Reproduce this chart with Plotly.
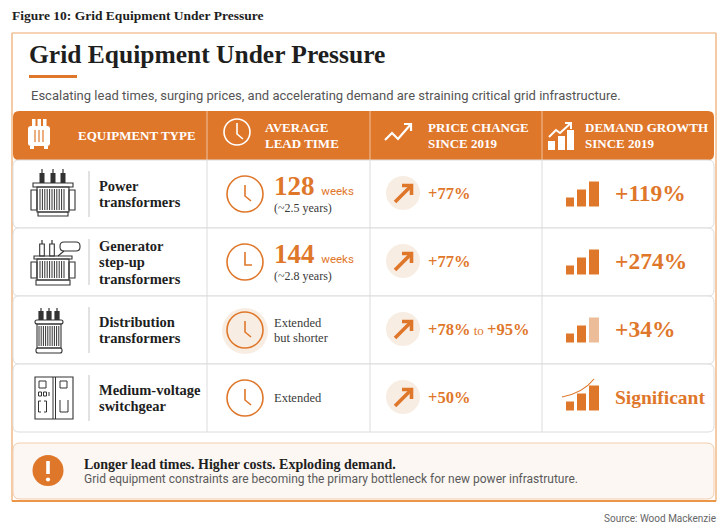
import plotly.graph_objects as go

# --- Data ---
HEADERS = [["EQUIPMENT TYPE"], ["AVERAGE", "LEAD TIME"],
           ["PRICE CHANGE", "SINCE 2019"], ["DEMAND GROWTH", "SINCE 2019"]]
EQUIPMENT = [["Power", "transformers"],
             ["Generator", "step-up", "transformers"],
             ["Distribution", "transformers"],
             ["Medium-voltage", "switchgear"]]
LEAD_WEEKS = [128, 144, None, None]
LEAD_NOTE = [["(~2.5 years)"], ["(~2.8 years)"], ["Extended", "but shorter"], ["Extended"]]
PRICE_FROM = [77, 77, 78, 50]
PRICE_TO = [None, None, 95, None]
DEMAND_PCT = [119, 274, 34, None]
DEMAND_TEXT = [None, None, None, "Significant"]

TITLE = "Grid Equipment Under Pressure"
FIG_LABEL = "Figure 10: Grid Equipment Under Pressure"
SUBTITLE = "Escalating lead times, surging prices, and accelerating demand are straining critical grid infrastructure."
CALLOUT_HEAD = "Longer lead times. Higher costs. Exploding demand."
CALLOUT_BODY = "Grid equipment constraints are becoming the primary bottleneck for new power infrastruture."
SOURCE = "Source: Wood Mackenzie"

# --- Style ---
W, H = 728, 532
PAGE_PAD = 8  # default body margin of the html page
ORANGE = "#DF772B"
PEACH = "#F8EDE2"
DARK = "#1E1E1E"
ICON = "#333333"
GRAY = "#555555"
CARD_LINE = "#DCDCDC"
SERIF = "Liberation Serif"
SANS = "Roboto"

COL_X = [13, 207, 370, 542, 714]
ROW_TOP, ROW_H = 160, 68

shapes, annotations = [], []


def rrect(x0, y0, x1, y1, r):
    return (f"M{x0+r},{y0} L{x1-r},{y0} Q{x1},{y0} {x1},{y0+r} L{x1},{y1-r} "
            f"Q{x1},{y1} {x1-r},{y1} L{x0+r},{y1} Q{x0},{y1} {x0},{y1-r} "
            f"L{x0},{y0+r} Q{x0},{y0} {x0+r},{y0} Z")


def add_path(d, fill=None, color=None, width=1):
    shapes.append(dict(type="path", path=d, xref="x", yref="y",
                       fillcolor=fill or "rgba(0,0,0,0)",
                       line=dict(color=color or "rgba(0,0,0,0)", width=width if color else 0)))


def add_line(x0, y0, x1, y1, color, width=1):
    shapes.append(dict(type="line", x0=x0, y0=y0, x1=x1, y1=y1, xref="x", yref="y",
                       line=dict(color=color, width=width)))


def add_rect(x0, y0, x1, y1, fill=None, color=None, width=1):
    shapes.append(dict(type="rect", x0=x0, y0=y0, x1=x1, y1=y1, xref="x", yref="y",
                       fillcolor=fill or "rgba(0,0,0,0)",
                       line=dict(color=color or "rgba(0,0,0,0)", width=width if color else 0)))


def add_circle(cx, cy, r, fill=None, color=None, width=1):
    shapes.append(dict(type="circle", x0=cx-r, y0=cy-r, x1=cx+r, y1=cy+r, xref="x", yref="y",
                       fillcolor=fill or "rgba(0,0,0,0)",
                       line=dict(color=color or "rgba(0,0,0,0)", width=width if color else 0)))


def add_text(x, y, s, size, color, family=SERIF, weight="normal", anchor="left"):
    annotations.append(dict(x=x, y=y, xref="x", yref="y", text=s, showarrow=False,
                            xanchor=anchor, yanchor="middle",
                            font=dict(family=family, size=size, color=color, weight=weight)))


def fins(x0, x1, y0, y1, step=2.4):
    x = x0
    while x <= x1:
        add_line(x, y0, x, y1, ICON, 1)
        x += step


def clock(cx, cy, r, color, width, hand="diag"):
    add_circle(cx, cy, r, color=color, width=width)
    if hand == "diag":
        add_path(f"M{cx},{cy-9} L{cx},{cy+2} L{cx+6},{cy+7}", color=color, width=width)
    else:
        add_path(f"M{cx},{cy-10} L{cx},{cy+3} L{cx+7},{cy+3}", color=color, width=width)


# --- Icons for equipment ---
def icon_power(cy):
    for cx in [42, 53, 63]:
        add_line(cx, cy-25, cx, cy-21, ICON, 1.2)
        add_rect(cx-2.5, cy-21, cx+2.5, cy-11, fill=ICON)
    add_rect(33, cy-11, 73, cy-7, color=ICON, width=1.1)
    add_rect(31, cy-4, 37, cy+16, color=ICON, width=1.1)
    add_rect(69, cy-4, 75, cy+16, color=ICON, width=1.1)
    add_rect(37, cy-7, 69, cy+18, color=ICON, width=1.1)
    fins(40, 66, cy-5, cy+16)
    add_rect(38, cy+18, 68, cy+22, color=ICON, width=1.1)


def icon_gsu(cy):
    for cx in [42, 52]:
        add_line(cx, cy-22, cx, cy-18, ICON, 1.2)
        add_rect(cx-2.3, cy-18, cx+2.3, cy-6, color=ICON, width=1.1)
    add_path(rrect(60, cy-20, 80, cy-11, 4), color=ICON, width=1.1)
    add_line(64, cy-11, 58, cy-6, ICON, 1.1)
    add_rect(34, cy-6, 72, cy-3, color=ICON, width=1.1)
    add_rect(31, cy, 37, cy+16, color=ICON, width=1.1)
    add_rect(69, cy, 75, cy+16, color=ICON, width=1.1)
    add_rect(37, cy-3, 69, cy+18, color=ICON, width=1.1)
    fins(40, 66, cy-1, cy+16)
    add_rect(36, cy+18, 70, cy+23, color=ICON, width=1.1)


def icon_dist(cy):
    for cx in [41, 49, 57]:
        add_line(cx, cy-22, cx, cy-19, ICON, 1.2)
        add_rect(cx-2.6, cy-19, cx+2.6, cy-10, fill=ICON)
    add_path(rrect(35, cy-10, 63, cy-6, 2), color=ICON, width=1.1)
    add_rect(37, cy-6, 61, cy+18, color=ICON, width=1.1)
    fins(39, 59, cy-4, cy+16, 2.2)
    add_path(rrect(36, cy+18, 62, cy+23, 2), color=ICON, width=1.1)


def icon_switch(cy):
    y0 = cy - 21
    add_rect(35, y0, 73, y0+42, color=ICON, width=1.1)
    add_line(53, y0, 53, y0+42, ICON, 1)
    add_line(55.5, y0, 55.5, y0+42, ICON, 1)
    add_rect(39, y0+4, 46, y0+11, color=ICON, width=1)
    add_rect(60, y0+4, 67, y0+11, color=ICON, width=1)
    add_rect(38.5, y0+15, 41.5, y0+19, color=ICON, width=1)
    add_rect(43.5, y0+15, 46.5, y0+19, color=ICON, width=1)
    add_line(49, y0+15, 49, y0+19, ICON, 1)
    add_path(f"M41,{y0+24} L38.5,{y0+24} L38.5,{y0+35} L41,{y0+35}", color=ICON, width=1)
    add_path(f"M44,{y0+24} L46.5,{y0+24} L46.5,{y0+35} L44,{y0+35}", color=ICON, width=1)
    add_path(f"M60,{y0+23} L60,{y0+35} L68,{y0+35} L68,{y0+23}", color=ICON, width=1)


EQUIP_ICONS = [icon_power, icon_gsu, icon_dist, icon_switch]

# --- Frame ---
# lighter on top and sides, stronger orange at the bottom
add_line(12, 33, 716, 33, "#F3C59C", 1.5)
add_line(12, 33, 12, 501, "#F1BA86", 1.5)
add_line(716, 33, 716, 501, "#F1BA86", 1.5)
add_line(12, 501, 716, 501, "#EC9748", 1.8)
add_line(29, 76.5, 77, 76.5, ORANGE, 3)

# Header bar
add_path(rrect(COL_X[0], 111, COL_X[-1], 160, 6), fill=ORANGE)
for x in COL_X[1:-1]:
    add_line(x, 111, x, 160, "rgba(255,255,255,0.55)", 1)

# header icons (white)
add_path(rrect(28, 126, 50, 146, 3), fill="white")
for bx in [32, 37.5, 43]:
    add_rect(bx, 119, bx+3.5, 126, fill="white")
for fx in [35, 39, 43]:
    add_line(fx, 130, fx, 142, ORANGE, 1.2)
add_rect(30, 146, 34, 149, fill="white")
add_rect(44, 146, 48, 149, fill="white")
clock(237, 132, 13, "white", 1.6)
add_path("M385,140 L392,133 L398,139 L411,124", color="white", width=2.2)
add_path("M404,124 L411,124 L411,131", color="white", width=2.2)
for bx0, bx1, top in [(548, 555, 141), (558, 565, 136), (567, 574, 130)]:
    add_rect(bx0, top, bx1, 150, fill="white")
add_path("M549,137 L556,130 L560,133 L571,123", color="white", width=2)
add_path("M565,123 L571,123 L571,129", color="white", width=2)

# Rows
for i in range(len(EQUIPMENT)):
    top = ROW_TOP + i * ROW_H
    add_path(rrect(COL_X[0], top, COL_X[-1], top + ROW_H, 6), fill="white", color=CARD_LINE, width=1)
for i in range(len(EQUIPMENT)):
    top = ROW_TOP + i * ROW_H
    for x in COL_X[1:-1]:
        add_line(x, top, x, top + ROW_H, CARD_LINE, 1)

for i in range(len(EQUIPMENT)):
    top = ROW_TOP + i * ROW_H
    cy = top + ROW_H / 2
    EQUIP_ICONS[i](cy)
    add_line(89, cy-23, 89, cy+23, "#C4C4C4", 1)

    # lead time clock
    if i == 2:
        add_circle(245, cy + 1, 23, fill=PEACH)
    clock(245, cy, 18, ORANGE, 1.6, hand="flat" if i == 1 else "diag")

    # price change
    px = 403
    add_circle(px, cy - 1, 17, fill=PEACH)
    add_line(px - 8, cy + 8, px + 7, cy - 7, ORANGE, 3.6)
    add_path(f"M{px-1},{cy-8.5} L{px+8.5},{cy-8.5} L{px+8.5},{cy+1}", color=ORANGE, width=3.6)

    # demand bars
    base = cy + 12.5
    third = "#EDBD9A" if i == 2 else ORANGE
    add_rect(566, base - 9, 574, base, fill=ORANGE)
    add_rect(577, base - 17, 586, base, fill=ORANGE)
    add_rect(589, base - 25, 599, base, fill=third)
    if DEMAND_PCT[i] is None:
        add_path(f"M562,{cy-1} Q583,{cy-5} 594,{cy-19}", color=ORANGE, width=1.2)

# Callout
add_path(rrect(13, 443, 714, 499, 7), fill="#FCF7F3", color="#F3CDAE", width=1)
add_circle(48, 470.5, 15.5, fill=ORANGE)
add_line(48, 461, 48, 474, "white", 3.6)
add_circle(48, 479.5, 2.1, fill="white")

# --- Text ---
add_text(10, 15, FIG_LABEL, 13.5, DARK, weight="bold")
add_text(27, 54, TITLE, 25.5, DARK, weight="bold")
add_text(29, 95, SUBTITLE, 13, GRAY, family=SANS)

header_x = [76, 263, 426, 583]
for hx, lines in zip(header_x, HEADERS):
    if len(lines) == 1:
        add_text(hx, 135, lines[0], 13, "white", weight="bold")
    else:
        add_text(hx, 127, lines[0], 13, "white", weight="bold")
        add_text(hx, 143, lines[1], 13, "white", weight="bold")

for i in range(len(EQUIPMENT)):
    top = ROW_TOP + i * ROW_H
    cy = top + ROW_H / 2
    names = EQUIPMENT[i]
    n = len(names)
    for k, s in enumerate(names):
        add_text(97, cy + (k - (n - 1) / 2) * 16.5, s, 14.5, DARK, weight="bold")

    if LEAD_WEEKS[i] is not None:
        add_text(272, cy - 8, f"<b>{LEAD_WEEKS[i]}</b> <span style='font-size:11.5px;font-family:Roboto'>weeks</span>",
                 27, ORANGE)
        add_text(272, cy + 14, LEAD_NOTE[i][0], 12, "#3A3A3A")
    else:
        notes = LEAD_NOTE[i]
        m = len(notes)
        for k, s in enumerate(notes):
            add_text(272, cy + (k - (m - 1) / 2) * 15, s, 12.5, "#3A3A3A")

    if PRICE_TO[i] is None:
        ptxt = f"<b>+{PRICE_FROM[i]}%</b>"
    else:
        ptxt = (f"<b>+{PRICE_FROM[i]}%</b><span style='font-size:13px'> to </span>"
                f"<b>+{PRICE_TO[i]}%</b>")
    add_text(426, cy - 1, ptxt, 16.5, ORANGE)

    if DEMAND_PCT[i] is not None:
        add_text(613, cy - 1, f"+{DEMAND_PCT[i]}%", 23.5, ORANGE, weight="bold")
    else:
        add_text(613, cy - 1, DEMAND_TEXT[i], 19.5, ORANGE, weight="bold")

add_text(82, 464, CALLOUT_HEAD, 14, DARK, weight="bold")
add_text(82, 479, CALLOUT_BODY, 12, "#5A5A5A", family=SANS)
add_text(718, 518, SOURCE, 10, "#666666", family=SANS, anchor="right")

# The page puts the figure 8px in from the top-left corner, so the figure is
# made smaller and its ranges start at 8 to keep window pixel == coordinate.
fig = go.Figure()
fig.add_trace(go.Scatter(x=[PAGE_PAD], y=[PAGE_PAD], mode="markers", marker=dict(opacity=0),
                         hoverinfo="skip", showlegend=False))
fig.update_layout(
    width=W - 2 * PAGE_PAD, height=H - 2 * PAGE_PAD,
    margin=dict(l=0, r=0, t=0, b=0),
    paper_bgcolor="white", plot_bgcolor="white",
    xaxis=dict(range=[PAGE_PAD, W - PAGE_PAD], visible=False, fixedrange=True),
    yaxis=dict(range=[H - PAGE_PAD, PAGE_PAD], visible=False, fixedrange=True),
    shapes=shapes, annotations=annotations,
    showlegend=False,
)
fig.write_html("out.html")
